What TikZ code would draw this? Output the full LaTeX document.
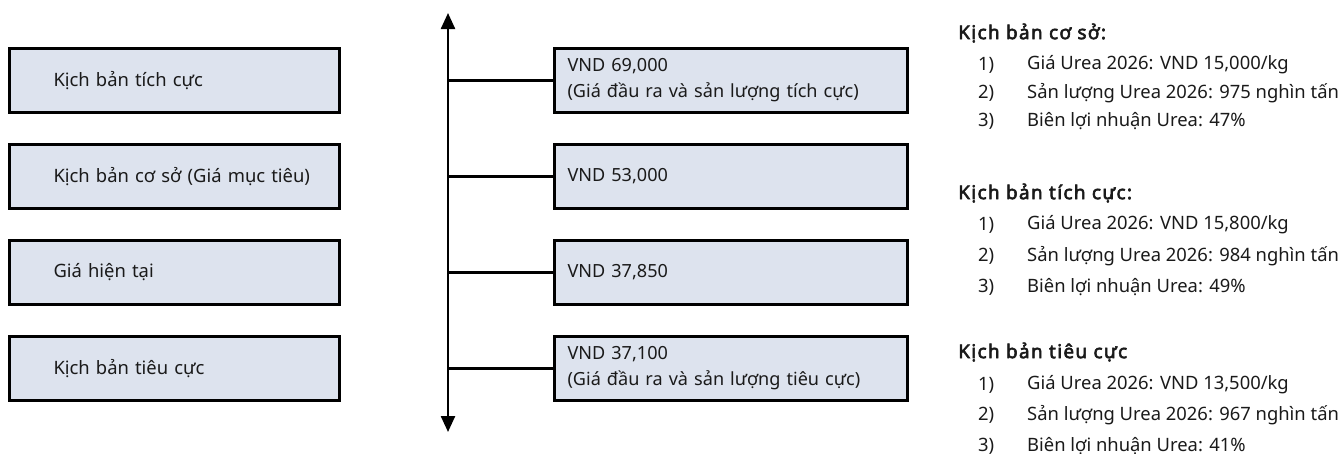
\documentclass[tikz,border=0pt]{standalone}
\usepackage{fontspec}
\setmainfont{Noto Sans}[AutoFakeBold=3]
\usetikzlibrary{arrows.meta}
\definecolor{boxfill}{HTML}{DDE3EE}
\definecolor{txt}{HTML}{1A1A1A}
\tikzset{
  leftbox/.style={draw=black, line width=3pt, fill=boxfill, minimum height=64pt, anchor=north west, inner xsep=0pt, inner ysep=0pt, text width=330pt, align=left, text=txt, font=\fontsize{18.4}{26}\selectfont},
  rightbox/.style={draw=black, line width=3pt, fill=boxfill, minimum height=64pt, anchor=north west, inner xsep=13pt, inner ysep=0pt, text width=327pt, align=left, text=txt, font=\fontsize{18.1}{26}\selectfont},
  head/.style={anchor=west, inner sep=0pt, text=txt, font=\bfseries\fontsize{19}{22}\selectfont\addfontfeatures{LetterSpace=7}},
  num/.style={anchor=west, inner sep=0pt, text=txt, font=\fontsize{18.4}{22}\selectfont},
  conn/.style={line width=2.4pt, black},
  axis/.style={line width=2.4pt, black, {Triangle[width=14pt,length=16pt]}-{Triangle[width=14pt,length=16pt]}}
}
\begin{document}
\begin{tikzpicture}[x=1pt,y=-1pt]
\useasboundingbox (0,0) rectangle (1342,453);
% left boxes
\node[leftbox] (L1) at (8,47) {\hspace*{44pt}Kịch bản tích cực};
\node[leftbox] (L2) at (8,143) {\hspace*{44pt}Kịch bản cơ sở (Giá mục tiêu)};
\node[leftbox] (L3) at (8,239) {\hspace*{44pt}Giá hiện tại};
\node[leftbox] (L4) at (8,335) {\hspace*{44pt}Kịch bản tiêu cực};
% axis
\coordinate (Atop) at (448,13);
\coordinate (Abot) at (448,432);
\draw[axis] (Abot) -- (Atop);
% right boxes
\node[rightbox] (R1) at (553,47) {VND 69,000\\(Giá đầu ra và sản lượng tích cực)};
\node[rightbox] (R2) at (553,143) {VND 53,000};
\node[rightbox] (R3) at (553,239) {VND 37,850};
\node[rightbox] (R4) at (553,335) {VND 37,100\\(Giá đầu ra và sản lượng tiêu cực)};
% connectors
\foreach \r in {R1,R2,R3,R4}{
  \draw[conn] (Atop |- \r.west) -- (\r.west);
}
% right text
\node[head] (H1) at (958,33) {Kịch bản cơ sở:};
\node[num] (n11) at (978,65) {1)};
\node[num] (t11) at (1027,65) {Giá Urea 2026: VND 15,000/kg};
\node[num] (n12) at (978,93) {2)};
\node[num] (t12) at (1027,93) {Sản lượng Urea 2026: 975 nghìn tấn};
\node[num] (n13) at (978,121) {3)};
\node[num] (t13) at (1027,121) {Biên lợi nhuận Urea: 47\%};
\node[head] (H2) at (958,193) {Kịch bản tích cực:};
\node[num] (n21) at (978,225) {1)};
\node[num] (t21) at (1027,225) {Giá Urea 2026: VND 15,800/kg};
\node[num] (n22) at (978,256) {2)};
\node[num] (t22) at (1027,256) {Sản lượng Urea 2026: 984 nghìn tấn};
\node[num] (n23) at (978,287) {3)};
\node[num] (t23) at (1027,287) {Biên lợi nhuận Urea: 49\%};
\node[head] (H3) at (958,352) {Kịch bản tiêu cực};
\node[num] (n31) at (978,385) {1)};
\node[num] (t31) at (1027,385) {Giá Urea 2026: VND 13,500/kg};
\node[num] (n32) at (978,415) {2)};
\node[num] (t32) at (1027,415) {Sản lượng Urea 2026: 967 nghìn tấn};
\node[num] (n33) at (978,446) {3)};
\node[num] (t33) at (1027,446) {Biên lợi nhuận Urea: 41\%};
\end{tikzpicture}
\end{document}
